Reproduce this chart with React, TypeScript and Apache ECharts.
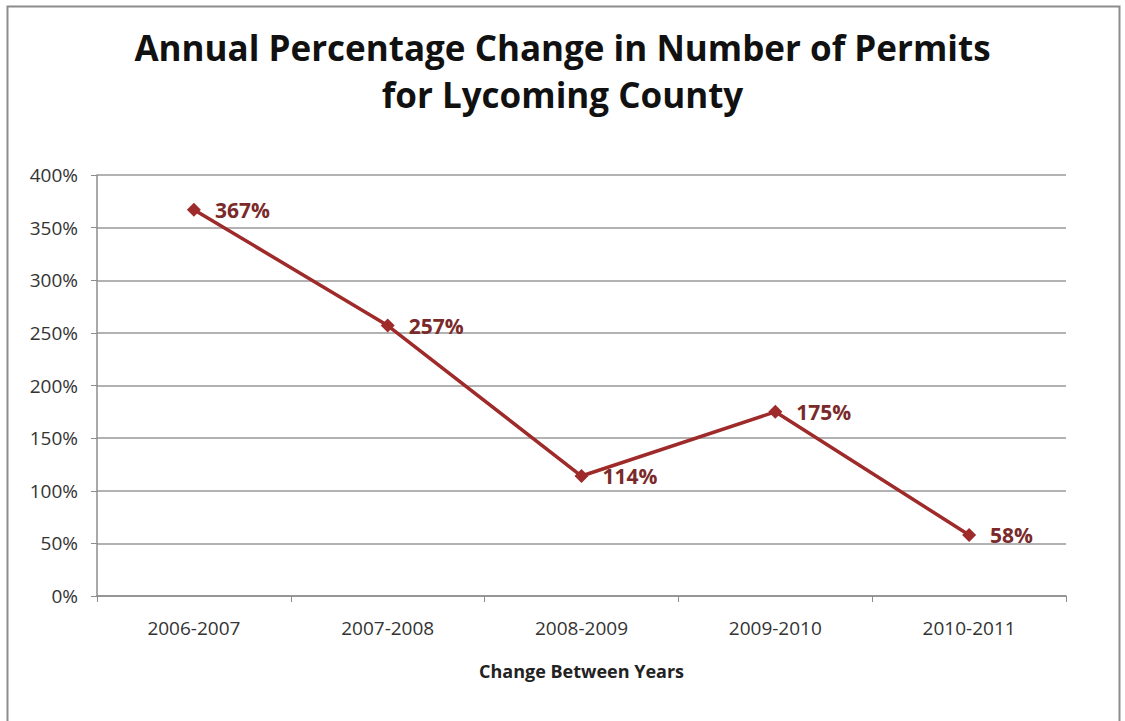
import React, { useEffect, useRef } from "react";
import * as echarts from "echarts";

const categories = ["2006-2007", "2007-2008", "2008-2009", "2009-2010", "2010-2011"];
const values = [367, 257, 114, 175, 58];
const yTicks = [0, 50, 100, 150, 200, 250, 300, 350, 400];

export default function App() {
  const ref = useRef<HTMLDivElement>(null);
  useEffect(() => {
    const chart = echarts.init(ref.current!, null, { renderer: "svg" });
    const font = "'Open Sans', 'Noto Sans', sans-serif";
    chart.setOption({
      animation: false,
      backgroundColor: "#ffffff",
      graphic: [
        {
          type: "rect",
          shape: { x: 7.5, y: 6.5, width: 1112, height: 730 },
          style: { fill: "none", stroke: "#8c8c8c", lineWidth: 2 },
          silent: true,
        },
      ],
      title: {
        text: "Annual Percentage Change in Number of Permits\nfor Lycoming County",
        left: "center",
        top: 19,
        textStyle: {
          fontFamily: font,
          fontSize: 35,
          fontWeight: "bold",
          color: "#111111",
          lineHeight: 47,
        },
      },
      grid: { left: 97, right: 59, top: 175, bottom: 125 },
      xAxis: {
        type: "category",
        data: categories,
        boundaryGap: true,
        name: "Change Between Years",
        nameLocation: "middle",
        nameGap: 66,
        nameTextStyle: { fontFamily: font, fontSize: 18, fontWeight: "bold", color: "#222" },
        axisLine: { lineStyle: { color: "#8c8c8c", width: 1.5 } },
        axisTick: { show: true, length: 6, lineStyle: { color: "#8c8c8c" } },
        axisLabel: { fontFamily: font, fontSize: 19, color: "#333", margin: 22 },
      },
      yAxis: {
        type: "value",
        min: yTicks[0],
        max: yTicks[yTicks.length - 1],
        interval: 50,
        axisLine: { show: true, lineStyle: { color: "#8c8c8c", width: 1.5 } },
        axisTick: { show: true, length: 6, lineStyle: { color: "#8c8c8c" } },
        splitLine: { lineStyle: { color: "#999999", width: 1.5 } },
        axisLabel: {
          fontFamily: font,
          fontSize: 19,
          color: "#333",
          margin: 19,
          formatter: (v: number) => v + "%",
        },
      },
      series: [
        {
          type: "line",
          data: values,
          symbol: "diamond",
          symbolSize: 14,
          lineStyle: { color: "#9e2a2a", width: 3.5 },
          itemStyle: { color: "#9e2a2a" },
          label: {
            show: true,
            position: "right",
            distance: 14,
            formatter: (p: any) => p.value + "%",
            fontFamily: font,
            fontSize: 21,
            fontWeight: "bold",
            color: "#7a2a2a",
          },
        },
      ],
    });
    return () => chart.dispose();
  }, []);
  return (
    <div
      ref={ref}
      style={{ position: "absolute", left: 0, top: 0, width: 1125, height: 721 }}
    />
  );
}
